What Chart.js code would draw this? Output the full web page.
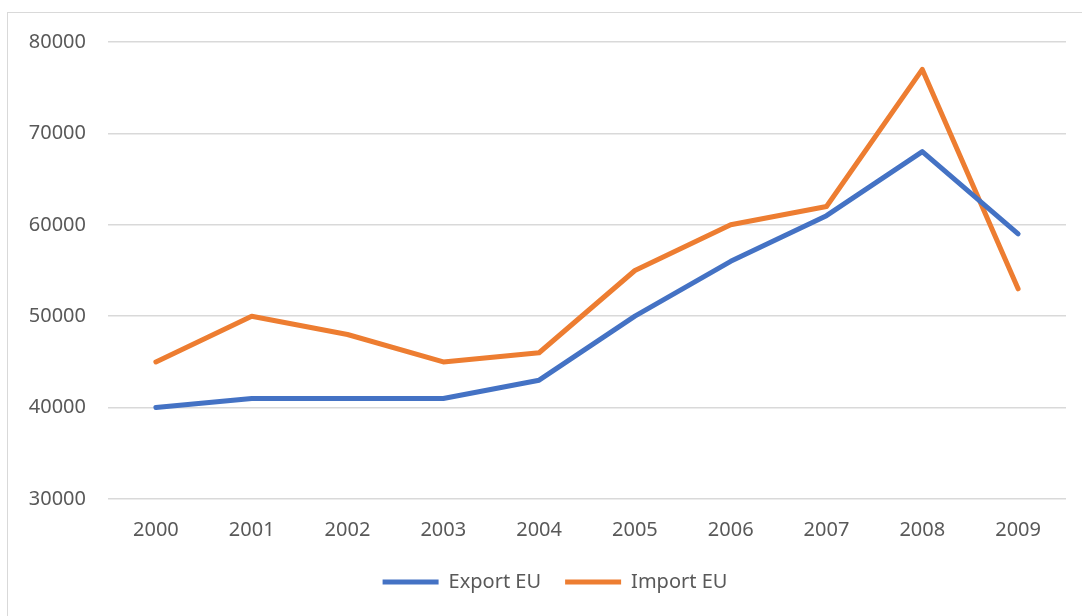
<!DOCTYPE html>
<html>
<head>
<meta charset="utf-8">
<script src="https://cdn.jsdelivr.net/npm/chart.js@4.4.1/dist/chart.umd.min.js"></script>
<style>
  html, body { margin: 0; padding: 0; background: #fff; overflow: hidden; }
  .wrap { position: relative; width: 1082px; height: 616px; }
  .frame { position: absolute; left: 7px; top: 12px; width: 1090px; height: 620px; border: 1px solid #d9d9d9; box-sizing: border-box; }
  canvas { position: absolute; left: 0; top: 0; }
</style>
</head>
<body>
<div class="wrap">
  <div class="frame"></div>
  <canvas id="chart" width="1082" height="616"></canvas>
</div>
<script>
// jaar
const years = ['2000', '2001', '2002', '2003', '2004', '2005', '2006', '2007', '2008', '2009']
// waarden
const exportEU = [40000, 41000, 41000, 41000, 43000, 50000, 56000, 61000, 68000, 59000]
const importEU = [45000, 50000, 48000, 45000, 46000, 55000, 60000, 62000, 77000, 53000]
const yMin = 30000
const yMax = 80000
const yStep = 10000

const ctx = document.getElementById('chart').getContext('2d')

// legenda iets naar rechts, zoals in het origineel
const shiftLegend = {
    id: 'shiftLegend',
    afterLayout(chart) {
        if (chart.legend) {
            chart.legend.left += 22
            chart.legend.right += 22
        }
    }
}

const myChart = new Chart(ctx, {
    type: 'line',
    data: {
        labels: years,
        datasets: [
            {
                label: 'Export EU',
                data: exportEU,
                borderColor: '#4472C4',
                backgroundColor: '#4472C4',
                borderWidth: 5,
                pointRadius: 0,
                tension: 0,
                borderCapStyle: 'round',
                borderJoinStyle: 'round'
            },
            {
                label: 'Import EU',
                data: importEU,
                borderColor: '#ED7D31',
                backgroundColor: '#ED7D31',
                borderWidth: 5,
                pointRadius: 0,
                tension: 0,
                borderCapStyle: 'round',
                borderJoinStyle: 'round'
            }
        ]
    },
    options: {
        responsive: false,
        animation: false,
        layout: {
            padding: { left: 0, right: 16, top: 42, bottom: 14 }
        },
        scales: {
            x: {
                offset: true,
                grid: { display: false, drawTicks: false },
                border: { display: false },
                ticks: {
                    color: '#595959',
                    font: { family: 'Noto Sans', size: 20 },
                    padding: 19
                },
                afterFit: function (scale) {
                    scale.height = scale.height - 13
                }
            },
            y: {
                min: yMin,
                max: yMax,
                grid: { color: '#d9d9d9', lineWidth: 1.5, drawTicks: false },
                border: { display: false },
                ticks: {
                    stepSize: yStep,
                    color: '#595959',
                    font: { family: 'Noto Sans', size: 20 },
                    padding: 22,
                    callback: function (value) {
                        return String(value)
                    }
                },
                afterFit: function (scale) {
                    scale.width = 108
                }
            }
        },
        plugins: {
            legend: {
                position: 'bottom',
                labels: {
                    usePointStyle: true,
                    pointStyle: 'line',
                    pointStyleWidth: 56,
                    boxHeight: 5,
                    color: '#595959',
                    font: { family: 'Noto Sans', size: 20 },
                    padding: 24
                }
            },
            tooltip: { enabled: false }
        }
    },
    plugins: [shiftLegend]
})
</script>
</body>
</html>
